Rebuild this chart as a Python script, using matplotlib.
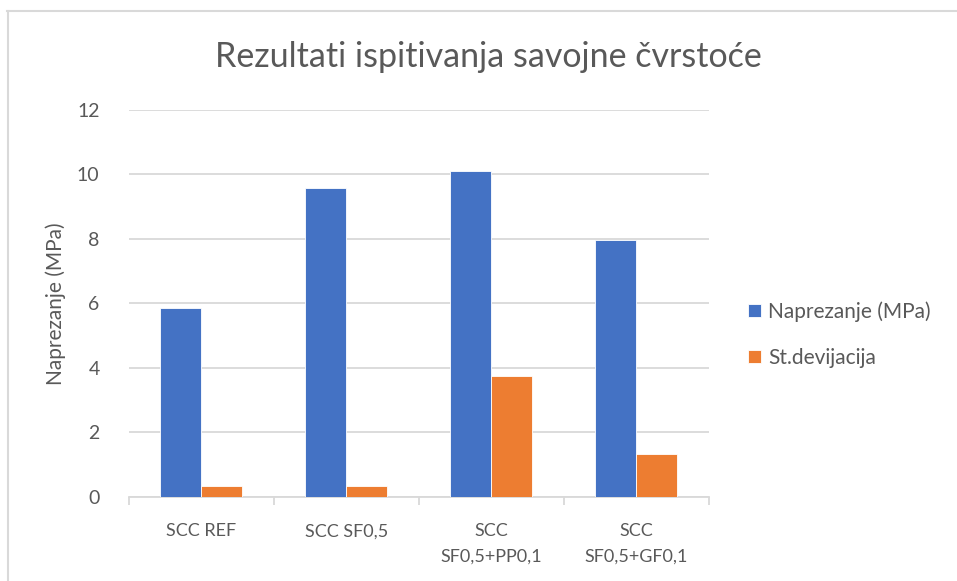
import numpy as np
import matplotlib.pyplot as plt
from matplotlib.lines import Line2D

# savojna čvrstoća po mješavini
kategorije = ['SCC REF', 'SCC SF0,5', 'SCC\nSF0,5+PP0,1', 'SCC\nSF0,5+GF0,1']
naprezanje = [5.85, 9.57, 10.09, 7.96]
devijacija = [0.33, 0.33, 3.74, 1.33]

plt.rcParams['font.family'] = ['Lato', 'DejaVu Sans']

siva = '#595959'
mreza = '#D9D9D9'

fig = plt.figure(figsize=(9.57, 5.81), dpi=100)
ax = fig.add_axes([0.1345, 0.145, 0.606, 0.666])

x = np.arange(len(kategorije))
w = 0.283
ax.bar(x - w/2, naprezanje, w, color='#4472C4', edgecolor='white', linewidth=0.6,
       label='Naprezanje (MPa)', zorder=3)
ax.bar(x + w/2, devijacija, w, color='#ED7D31', edgecolor='white', linewidth=0.6,
       label='St.devijacija', zorder=3)

ax.set_xlim(-0.5, len(kategorije) - 0.5)
ax.set_ylim(0, 12)
ax.set_yticks(range(0, 13, 2))
ax.yaxis.grid(True, color=mreza, linewidth=1.3, zorder=0)
ax.set_axisbelow(True)

for s in ['top', 'right', 'left']:
    ax.spines[s].set_visible(False)
ax.spines['bottom'].set_color(mreza)
ax.spines['bottom'].set_linewidth(1.3)

ax.set_xticks(x)
ax.set_xticklabels(kategorije, color=siva, fontsize=13, linespacing=1.7)
ax.set_xticks(np.arange(len(kategorije) + 1) - 0.5, minor=True)
ax.tick_params(axis='x', which='major', length=0, pad=19)
ax.tick_params(axis='x', which='minor', length=6, color=mreza, width=1.3)
ax.tick_params(axis='y', length=0, labelcolor=siva, labelsize=14, pad=21)

ax.set_ylabel('Naprezanje (MPa)', color=siva, fontsize=15, labelpad=8)
fig.suptitle('Rezultati ispitivanja savojne čvrstoće', color=siva, fontsize=24.5,
             x=0.51, y=0.93)

ax.legend(loc='center left', bbox_to_anchor=(1.0, 0.42), frameon=False,
          fontsize=15, labelcolor=siva, handlelength=0.6, handleheight=0.6,
          handletextpad=0.35, labelspacing=1.25, borderaxespad=1.5)

# okvir grafikona
fig.add_artist(Line2D([7/957, 1], [1 - 11/581, 1 - 11/581], color=mreza, lw=1.5))
fig.add_artist(Line2D([8/957, 8/957], [0, 1 - 11/581], color=mreza, lw=1.5))

fig.savefig('out.png', dpi=100)
